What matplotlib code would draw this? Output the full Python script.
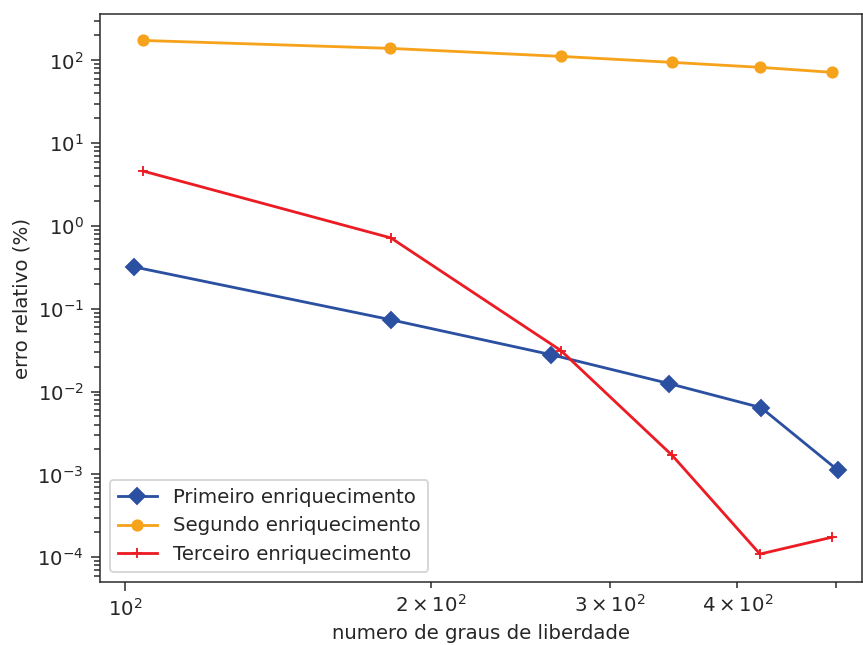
import numpy as np
import matplotlib
matplotlib.use("Agg")
from matplotlib import pyplot as plt
from matplotlib import ticker

# graus de liberdade e erro relativo (%) de cada enriquecimento
dof_primeiro = [102.1, 182.6, 262.4, 342.7, 422.1, 502.4]
erro_primeiro = [0.32, 0.0736, 0.0279, 0.0125, 0.0064, 0.00112]

dof_segundo = [104.2, 182.2, 268.4, 345.1, 421.1, 495.6]
erro_segundo = [174.0, 139.6, 111.7, 94.6, 82.4, 71.7]

dof_terceiro = [104.2, 182.6, 268.4, 345.1, 421.1, 495.6]
erro_terceiro = [4.6, 0.717, 0.0312, 0.0017, 1.09e-4, 1.74e-4]

x_labels = {2: r'$2\times10^{2}$', 3: r'$3\times10^{2}$', 4: r'$4\times10^{2}$'}


def minor_label(v, pos):
    k = int(round(v / 100.0))
    return x_labels.get(k, '')


DPI = 135
plt.rcParams.update({'font.size': 10.5, 'font.family': 'DejaVu Sans'})
fig = plt.figure(figsize=(863 / DPI, 645 / DPI), dpi=DPI)
ax = fig.add_axes([100 / 863, 1 - 582 / 645, 762 / 863, 568 / 645])

ax.plot(dof_primeiro, erro_primeiro, marker='D', markersize=5.8, color='#2b4fa1', lw=1.5,
        label='Primeiro enriquecimento')
ax.plot(dof_segundo, erro_segundo, marker='o', markersize=5.5, color='#f7a21b', lw=1.5,
        label='Segundo enriquecimento')
ax.plot(dof_terceiro, erro_terceiro, marker='+', markersize=5.5, color='#ec1c24', lw=1.5,
        label='Terceiro enriquecimento')

ax.set_xscale('log')
ax.set_yscale('log')
ax.set_xlim(94.5, 530.5)
ax.set_ylim(10 ** -4.3, 10 ** 2.56)

ax.xaxis.set_minor_formatter(ticker.FuncFormatter(minor_label))
ax.tick_params(which='both', direction='out', colors='#262626', labelsize=10.5, width=0.8)
ax.tick_params(which='major', length=5)
ax.tick_params(which='minor', length=3)
for s in ax.spines.values():
    s.set_color('#262626')
    s.set_linewidth(0.8)

ax.set_xlabel('numero de graus de liberdade', color='#262626', labelpad=2)
ax.set_ylabel('erro relativo (%)', color='#262626', labelpad=3)

leg = ax.legend(loc='lower left', fontsize=10.5, frameon=True, borderaxespad=0.5)
for t in leg.get_texts():
    t.set_color('#262626')

fig.savefig('out.png', dpi=DPI)
